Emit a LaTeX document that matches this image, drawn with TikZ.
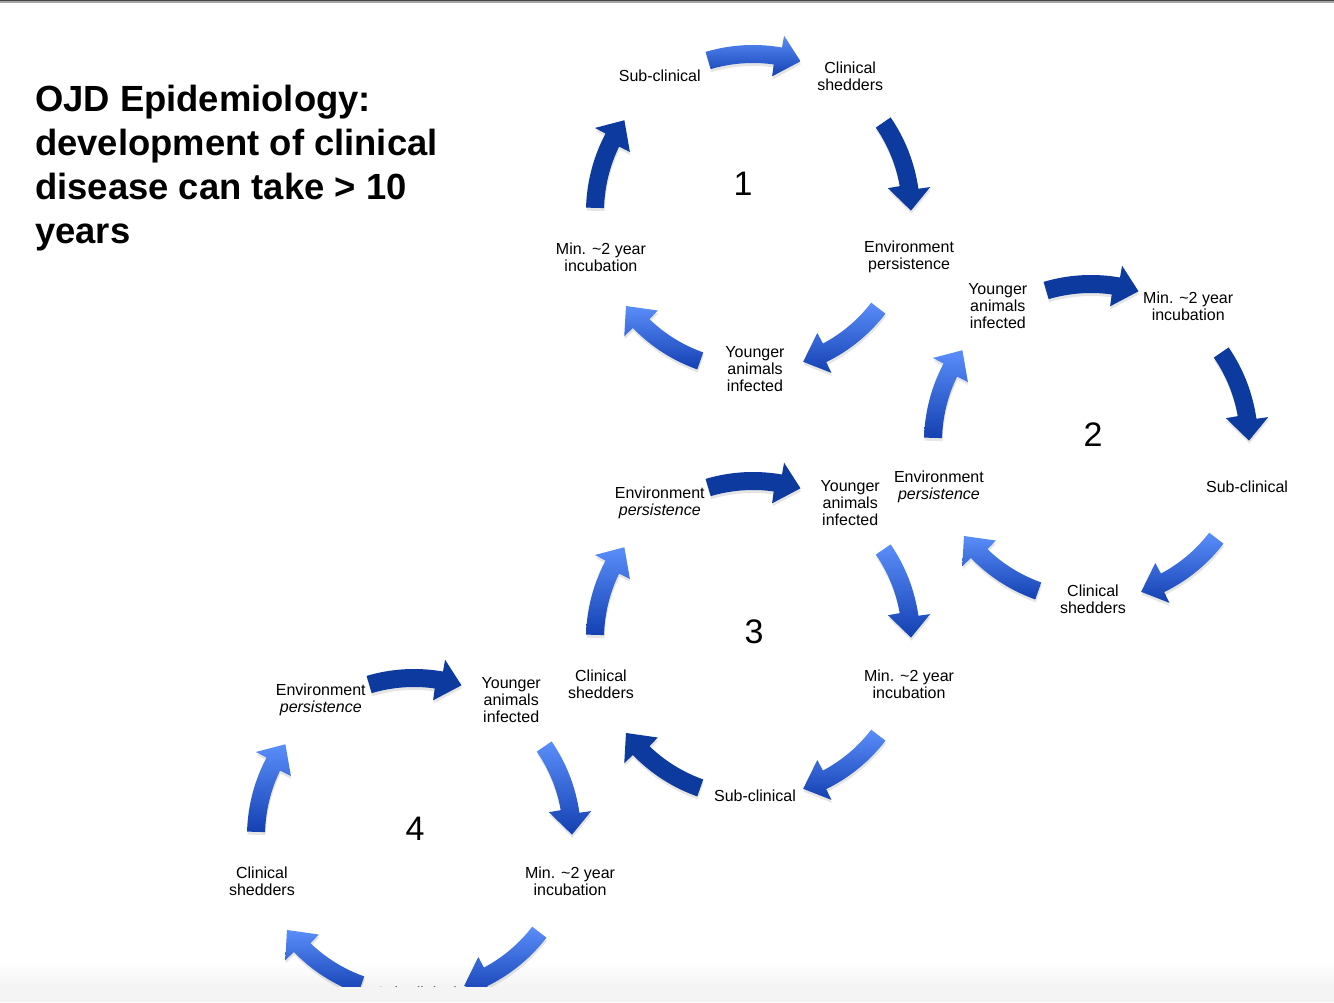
\documentclass[tikz,border=0pt]{standalone}
\usepackage{fontspec}
\setmainfont{Liberation Sans}
\usetikzlibrary{calc}
\definecolor{navy}{RGB}{12,58,158}
\definecolor{lightblue}{RGB}{90,142,250}
\definecolor{midblue}{RGB}{20,64,178}
\definecolor{bandgray}{RGB}{244,244,244}
\definecolor{topline}{RGB}{70,70,70}
\tikzset{
  darkarrow/.style={fill=navy},
  gradarrow/.style={top color=lightblue, bottom color=midblue},
  shadowarrow/.style={fill=black, opacity=0.10},
  lab/.style={align=center, inner sep=0pt, font=\fontsize{16}{17}\selectfont},
  num/.style={inner sep=0pt, font=\fontsize{34}{36}\selectfont},
}
\newcommand{\arrowshape}[3]{%
  \pgfmathsetmacro{\aT}{#2+16.5}%
  \pgfmathsetmacro{\aP}{#2-17.5}%
  \pgfmathsetmacro{\aO}{#2-10}%
  \pgfmathsetmacro{\aI}{#2-8}%
  \coordinate (acen) at ($(#1)+(-2pt,-5pt)$);
  \path[#3] ($(acen)+(\aT:167pt)$) arc[start angle=\aT, end angle=\aO, radius=167pt]
     -- ($(acen)+(\aO:179pt)$) -- ($(acen)+(\aP:158pt)$) -- ($(acen)+(\aI:137pt)$)
     -- ($(acen)+(\aI:149pt)$) arc[start angle=\aI, end angle=\aT, radius=149pt] -- cycle;
}
\newcommand{\cycarrow}[3]{%
  \begin{scope}[transform canvas={shift={(0.5pt,-3pt)}}]\arrowshape{#1}{#2}{shadowarrow}\end{scope}%
  \arrowshape{#1}{#2}{#3}%
}
\begin{document}
\begin{tikzpicture}[x=1pt,y=1pt]
\useasboundingbox (0,0) rectangle (1334,1002);
\fill[white] (0,0) rectangle (1334,1002);
\shade[top color=white, bottom color=bandgray] (0,15) rectangle (1334,40);

% title
\node[anchor=north west, align=left, inner sep=0pt,
      font=\bfseries\fontsize{36.4}{44}\selectfont] (title) at (35,917)
  {OJD Epidemiology:\\development of clinical\\disease can take > 10\\years};

% cycle centres
\coordinate (c1) at (755,795);
\coordinate (c2) at (1093,565);
\coordinate (c3) at (755,368);
\coordinate (c4) at (416,171);

% ---- cycle 1
\cycarrow{c1}{90}{gradarrow}
\cycarrow{c1}{18}{darkarrow}
\cycarrow{c1}{-54}{gradarrow}
\cycarrow{c1}{-126}{gradarrow}
\cycarrow{c1}{162}{darkarrow}
\node[lab] (c1sub) at ($(c1)+(126:162pt)$) {Sub-clinical};
\node[lab] (c1cli) at ($(c1)+(54:162pt)$) {Clinical\\shedders};
\node[lab] (c1env) at ($(c1)+(-18:162pt)$) {Environment\\persistence};
\node[lab] (c1you) at ($(c1)+(-90:162pt)$) {Younger\\animals\\infected};
\node[lab] (c1min) at ($(c1)+(198:162pt)$) {Min. \textasciitilde 2 year\\incubation};
\node[num] (n1) at (743,818) {1};

% ---- cycle 2
\cycarrow{c2}{90}{darkarrow}
\cycarrow{c2}{18}{darkarrow}
\cycarrow{c2}{-54}{gradarrow}
\cycarrow{c2}{-126}{gradarrow}
\cycarrow{c2}{162}{gradarrow}
\node[lab] (c2you) at ($(c2)+(126:162pt)$) {Younger\\animals\\infected};
\node[lab] (c2min) at ($(c2)+(54:162pt)$) {Min. \textasciitilde 2 year\\incubation};
\node[lab] (c2sub) at ($(c2)+(-18:162pt)$) {Sub-clinical};
\node[lab] (c2cli) at ($(c2)+(-90:162pt)$) {Clinical\\shedders};
\node[lab] (c2env) at ($(c2)+(198:162pt)$) {Environment\\\textit{persistence}};
\node[num] (n2) at (1093,567) {2};

% ---- cycle 3
\cycarrow{c3}{90}{darkarrow}
\cycarrow{c3}{18}{gradarrow}
\cycarrow{c3}{-54}{gradarrow}
\cycarrow{c3}{-126}{darkarrow}
\cycarrow{c3}{162}{gradarrow}
\node[lab] (c3env) at ($(c3)+(126:162pt)$) {Environment\\\textit{persistence}};
\node[lab] (c3you) at ($(c3)+(54:162pt)$) {Younger\\animals\\infected};
\node[lab] (c3min) at ($(c3)+(-18:162pt)$) {Min. \textasciitilde 2 year\\incubation};
\node[lab] (c3sub) at ($(c3)+(-90:162pt)$) {Sub-clinical};
\node[lab] (c3cli) at ($(c3)+(198:162pt)$) {Clinical\\shedders};
\node[num] (n3) at (754,370) {3};

% ---- cycle 4
\cycarrow{c4}{90}{darkarrow}
\cycarrow{c4}{18}{gradarrow}
\cycarrow{c4}{-54}{gradarrow}
\cycarrow{c4}{-126}{gradarrow}
\cycarrow{c4}{162}{gradarrow}
\node[lab] (c4env) at ($(c4)+(126:162pt)$) {Environment\\\textit{persistence}};
\node[lab] (c4you) at ($(c4)+(54:162pt)$) {Younger\\animals\\infected};
\node[lab] (c4min) at ($(c4)+(-18:162pt)$) {Min. \textasciitilde 2 year\\incubation};
\node[lab] (c4sub) at ($(c4)+(-90:162pt)$) {Sub-clinical};
\node[lab] (c4cli) at ($(c4)+(198:162pt)$) {Clinical\\shedders};
\node[num] (n4) at (415,173) {4};

% frame bits
\fill[bandgray] (0,0) rectangle (1334,15);
\fill[gray!70] (0,998.5) rectangle (1334,1000.5);
\fill[topline] (0,1000.5) rectangle (1334,1002);
\end{tikzpicture}
\end{document}
